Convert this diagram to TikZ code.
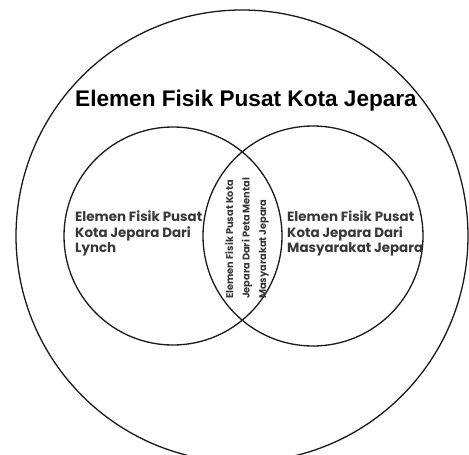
\documentclass[tikz,border=0pt]{standalone}
\usepackage{fontspec}
\setmainfont{Liberation Sans}
\newfontfamily\gothicfont{Poppins}
\usetikzlibrary{positioning}
\definecolor{vennink}{HTML}{1A1A1A}
\definecolor{venntext}{HTML}{383838}

\begin{document}
\begin{tikzpicture}[x=1pt,y=-1pt,
  venn/.style={circle,draw=vennink,line width=1.3pt,inner sep=0pt},
  venntxt/.style={font=\gothicfont\bfseries\fontsize{13.4}{15.5}\selectfont,
    text=venntext,align=left,inner sep=0pt}]

  % Cadre
  \fill[white] (0,0) rectangle (469,455);
  \useasboundingbox (0,0) rectangle (469,455);

  % Cercles
  \node[venn,minimum size=452pt] (outer) at (242,236) {};
  \node[venn,minimum size=218pt] (lynch) at (173,236) {};
  \node[venn,minimum size=220pt] (warga) at (313,236) {};

  % Textes
  \node[font=\bfseries\fontsize{22.6}{26}\selectfont,anchor=base,inner sep=0pt]
       (judul) at (246,106) {Elemen Fisik Pusat Kota Jepara};
  \node[venntxt,anchor=north west] (tlynch) at (75,211)
       {Elemen Fisik Pusat\\Kota Jepara Dari\\Lynch};
  \node[venntxt,anchor=north west] (twarga) at (287,211)
       {Elemen Fisik Pusat\\Kota Jepara Dari\\Masyarakat Jepara};
  \node[venntxt,font=\gothicfont\bfseries\fontsize{9.8}{16.5}\selectfont,
        rotate=90,anchor=west] (tmental) at (247,299)
       {Elemen Fisik Pusat Kota\\Jepara Dari Peta Mental\\Masyarakat Jepara};

\end{tikzpicture}
\end{document}
